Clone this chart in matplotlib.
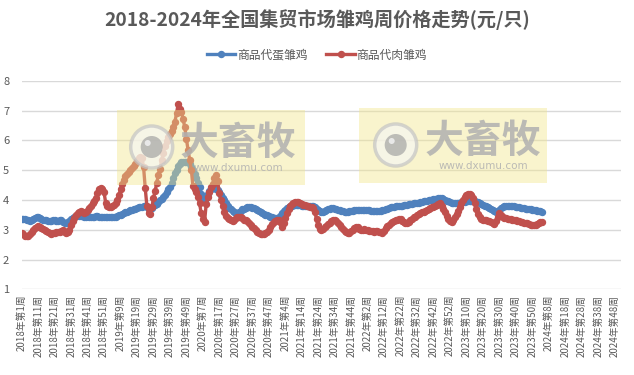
import numpy as np
import matplotlib
matplotlib.use("Agg")
import matplotlib.pyplot as plt
from matplotlib.patches import Rectangle, Circle

plt.rcParams['font.family'] = ['Noto Sans CJK SC', 'DejaVu Sans']

title = "2018-2024年全国集贸市场雏鸡周价格走势(元/只)"
series_names = ["商品代蛋雏鸡", "商品代肉雏鸡"]
years = [2018, 2019, 2020, 2021, 2022, 2023, 2024]
weeks_per_year = [52, 52, 53, 52, 52, 52, 52]

# 商品代蛋雏鸡 (layer chicks), weekly
egg_2018 = [3.35, 3.36, 3.35, 3.34, 3.33, 3.30, 3.32, 3.36, 3.39, 3.41, 3.41, 3.38, 3.35, 3.33, 3.32, 3.31,
            3.30, 3.30, 3.30, 3.31, 3.31, 3.30, 3.30, 3.32, 3.31, 3.26, 3.22, 3.21, 3.25, 3.30, 3.35, 3.40,
            3.44, 3.47, 3.48, 3.47, 3.46, 3.45, 3.44, 3.44, 3.45, 3.44, 3.43, 3.43, 3.44, 3.45, 3.45, 3.44,
            3.44, 3.43, 3.42, 3.42]
egg_2019 = [3.43, 3.43, 3.42, 3.42, 3.42, 3.43, 3.45, 3.48, 3.50, 3.53, 3.56, 3.59, 3.61, 3.63, 3.65, 3.67,
            3.69, 3.71, 3.73, 3.75, 3.76, 3.77, 3.78, 3.78, 3.76, 3.70, 3.68, 3.72, 3.78, 3.82, 3.86, 3.92,
            3.98, 4.04, 4.10, 4.18, 4.26, 4.35, 4.44, 4.58, 4.74, 4.89, 5.02, 5.14, 5.22, 5.26, 5.28, 5.28,
            5.27, 5.26, 5.22, 5.12]
egg_2020 = [5.00, 4.86, 4.72, 4.58, 4.44, 4.20, 4.00, 3.92, 4.05, 4.20, 4.30, 4.36, 4.40, 4.40, 4.38, 4.34,
            4.28, 4.18, 4.08, 4.00, 3.90, 3.80, 3.74, 3.68, 3.62, 3.58, 3.55, 3.55, 3.58, 3.63, 3.68, 3.71,
            3.74, 3.76, 3.77, 3.76, 3.74, 3.72, 3.70, 3.66, 3.62, 3.60, 3.57, 3.54, 3.51, 3.48, 3.46, 3.44,
            3.42, 3.40, 3.39, 3.38, 3.40]
egg_2021 = [3.45, 3.55, 3.62, 3.67, 3.72, 3.75, 3.78, 3.80, 3.82, 3.83, 3.83, 3.82, 3.82, 3.81, 3.81, 3.80,
            3.80, 3.80, 3.80, 3.80, 3.80, 3.76, 3.70, 3.65, 3.62, 3.60, 3.60, 3.62, 3.65, 3.68, 3.70, 3.72,
            3.72, 3.71, 3.69, 3.67, 3.65, 3.63, 3.62, 3.61, 3.60, 3.61, 3.62, 3.63, 3.64, 3.65, 3.66, 3.66,
            3.66, 3.65, 3.65, 3.66]
egg_2022 = [3.66, 3.65, 3.65, 3.64, 3.64, 3.63, 3.63, 3.64, 3.64, 3.64, 3.65, 3.67, 3.69, 3.71, 3.73, 3.75,
            3.76, 3.77, 3.78, 3.79, 3.80, 3.80, 3.81, 3.82, 3.83, 3.84, 3.85, 3.86, 3.87, 3.88, 3.89, 3.90,
            3.91, 3.92, 3.93, 3.95, 3.96, 3.97, 3.99, 4.00, 4.01, 4.02, 4.03, 4.04, 4.05, 4.06, 4.05, 4.03,
            4.00, 3.97, 3.95, 3.93]
egg_2023 = [3.91, 3.90, 3.89, 3.88, 3.89, 3.90, 3.92, 3.93, 3.94, 3.95, 3.96, 3.96, 3.96, 3.96, 3.95, 3.94,
            3.92, 3.89, 3.86, 3.83, 3.80, 3.78, 3.75, 3.72, 3.69, 3.66, 3.63, 3.61, 3.62, 3.66, 3.72, 3.76,
            3.78, 3.79, 3.79, 3.79, 3.79, 3.78, 3.78, 3.77, 3.76, 3.75, 3.74, 3.73, 3.72, 3.71, 3.70, 3.69,
            3.68, 3.67, 3.66, 3.65]
egg_2024 = [3.64, 3.63, 3.62, 3.61]

# 商品代肉雏鸡 (broiler chicks), weekly
meat_2018 = [2.90, 2.85, 2.80, 2.78, 2.80, 2.86, 2.92, 2.98, 3.05, 3.10, 3.12, 3.10, 3.06, 3.04, 3.00, 2.97,
             2.92, 2.88, 2.87, 2.89, 2.90, 2.92, 2.93, 2.93, 2.96, 2.98, 2.92, 2.88, 2.92, 3.00, 3.15, 3.28,
             3.40, 3.48, 3.55, 3.60, 3.63, 3.58, 3.55, 3.60, 3.66, 3.72, 3.78, 3.88, 3.96, 4.05, 4.22, 4.38,
             4.40, 4.38, 4.25, 3.90]
meat_2019 = [3.78, 3.76, 3.76, 3.78, 3.82, 3.90, 4.00, 4.15, 4.35, 4.55, 4.68, 4.80, 4.88, 4.95, 5.02, 5.08,
             5.14, 5.22, 5.30, 5.40, 5.45, 5.42, 5.10, 4.40, 3.80, 3.55, 3.52, 3.75, 4.05, 4.30, 4.58, 4.85,
             5.05, 5.34, 5.58, 5.80, 5.98, 6.12, 6.22, 6.32, 6.45, 6.62, 6.90, 7.22, 7.05, 6.95, 6.70, 6.45,
             6.05, 5.68, 5.35, 5.00]
meat_2020 = [4.45, 4.35, 4.28, 4.10, 3.88, 3.55, 3.35, 3.25, 3.85, 4.10, 4.28, 4.42, 4.55, 4.72, 4.85, 4.62,
             4.22, 3.98, 3.78, 3.60, 3.46, 3.40, 3.35, 3.32, 3.30, 3.33, 3.38, 3.42, 3.44, 3.42, 3.38, 3.34,
             3.32, 3.28, 3.22, 3.16, 3.10, 3.05, 2.98, 2.92, 2.88, 2.86, 2.86, 2.87, 2.88, 2.92, 3.00, 3.10,
             3.20, 3.25, 3.30, 3.33, 3.32]
meat_2021 = [3.25, 3.10, 3.22, 3.40, 3.55, 3.70, 3.80, 3.85, 3.88, 3.92, 3.94, 3.92, 3.88, 3.86, 3.84, 3.82,
             3.80, 3.78, 3.77, 3.76, 3.74, 3.60, 3.35, 3.15, 3.02, 3.00, 3.03, 3.08, 3.12, 3.18, 3.22, 3.28,
             3.32, 3.34, 3.30, 3.22, 3.16, 3.10, 3.02, 2.96, 2.92, 2.88, 2.90, 2.95, 3.00, 3.06, 3.10, 3.08,
             3.04, 3.00, 3.00, 3.01]
meat_2022 = [2.99, 2.98, 2.97, 2.95, 2.94, 2.93, 2.94, 2.95, 2.93, 2.91, 2.90, 2.95, 3.05, 3.12, 3.17, 3.21,
             3.25, 3.28, 3.31, 3.33, 3.35, 3.35, 3.30, 3.25, 3.22, 3.21, 3.26, 3.32, 3.37, 3.41, 3.44, 3.48,
             3.52, 3.55, 3.58, 3.60, 3.63, 3.66, 3.70, 3.73, 3.75, 3.77, 3.80, 3.83, 3.86, 3.88, 3.80, 3.70,
             3.58, 3.45, 3.35, 3.28]
meat_2023 = [3.27, 3.32, 3.42, 3.52, 3.62, 3.75, 3.88, 4.00, 4.10, 4.16, 4.19, 4.20, 4.18, 4.08, 3.90, 3.70,
             3.52, 3.42, 3.36, 3.33, 3.32, 3.31, 3.30, 3.28, 3.25, 3.22, 3.20, 3.28, 3.42, 3.55, 3.50, 3.44,
             3.40, 3.38, 3.37, 3.36, 3.35, 3.34, 3.33, 3.32, 3.30, 3.28, 3.27, 3.26, 3.24, 3.22, 3.21, 3.19,
             3.17, 3.16, 3.15, 3.16]
meat_2024 = [3.18, 3.21, 3.25, 3.27]

egg = egg_2018 + egg_2019 + egg_2020 + egg_2021 + egg_2022 + egg_2023 + egg_2024
meat = meat_2018 + meat_2019 + meat_2020 + meat_2021 + meat_2022 + meat_2023 + meat_2024

categories = []
for y, n in zip(years, weeks_per_year):
    for w in range(1, n + 1):
        categories.append(f"{y}年第{w}周")

blue = "#4F81BD"
red = "#C0504D"
gray_txt = "#595959"

W, H = 634, 375
fig = plt.figure(figsize=(W / 100, H / 100), dpi=100)
ax = fig.add_axes([21.7 / W, 1 - 289.3 / H, (621.2 - 21.7) / W, (289.3 - 80.7) / H])

x_egg = np.arange(len(egg))
x_meat = np.arange(len(meat))
ax.plot(x_egg, egg, color=blue, lw=2.4, marker='o', ms=4.3, mec=blue, mfc=blue,
        label=series_names[0], zorder=3)
ax.plot(x_meat, meat, color=red, lw=2.4, marker='o', ms=4.3, mec=red, mfc=red,
        label=series_names[1], zorder=4)

ax.set_xlim(0, len(categories) - 1)
ax.set_ylim(1, 8)
ax.set_yticks(range(1, 9))
ax.grid(axis='y', color='#D9D9D9', lw=1)
ax.set_axisbelow(True)
for s in ax.spines.values():
    s.set_visible(False)
ticks = list(range(0, len(categories), 10))
ax.set_xticks(ticks)
ax.set_xticklabels([categories[i] for i in ticks], rotation=90, fontsize=7, color=gray_txt)
ax.tick_params(axis='x', length=0, pad=4)
ax.tick_params(axis='y', length=0, pad=9, labelsize=8, labelcolor=gray_txt)

fig.text(317 / W, 1 - 20 / H, title, ha='center', va='center', fontsize=13.8,
         fontweight='bold', color=gray_txt)

leg = ax.legend(loc='center', bbox_to_anchor=(317 / W, 1 - 55 / H), bbox_transform=fig.transFigure,
                ncol=2, frameon=False, fontsize=8.5, handlelength=2.4, handletextpad=0.15,
                columnspacing=1.6, labelcolor=gray_txt)

# watermark overlay
ov = fig.add_axes([0, 0, 1, 1], zorder=10)
ov.set_xlim(0, W)
ov.set_ylim(H, 0)
ov.axis('off')
for (rx, ry, cx, tx) in [(117, 110, 151.7, 238), (359, 108, 395.7, 483)]:
    ov.add_patch(Rectangle((rx, ry), 188, 75, fc='#F2E68A', ec='none', alpha=0.42))
    cy = ry + 37
    ov.add_patch(Circle((cx, cy), 21, fc='#F6F6F2', ec='#C4C4C4', lw=2.5, alpha=0.7))
    ov.add_patch(Circle((cx, cy), 11, fc='#A4A4A4', ec='none', alpha=0.7))
    ov.add_patch(Circle((cx - 4, cy - 4), 3, fc='#EEEEEE', ec='none', alpha=0.9))
    ov.text(tx, cy - 4, "大畜牧", ha='center', va='center', fontsize=28, fontweight='bold',
            color='#B0B0B0', alpha=0.85)
    ov.text(tx, cy + 21, "www.dxumu.com", ha='center', va='center', fontsize=7.5,
            color='#B0B0B0', alpha=0.85, family=['DejaVu Sans'])

fig.savefig("out.png", dpi=100)
